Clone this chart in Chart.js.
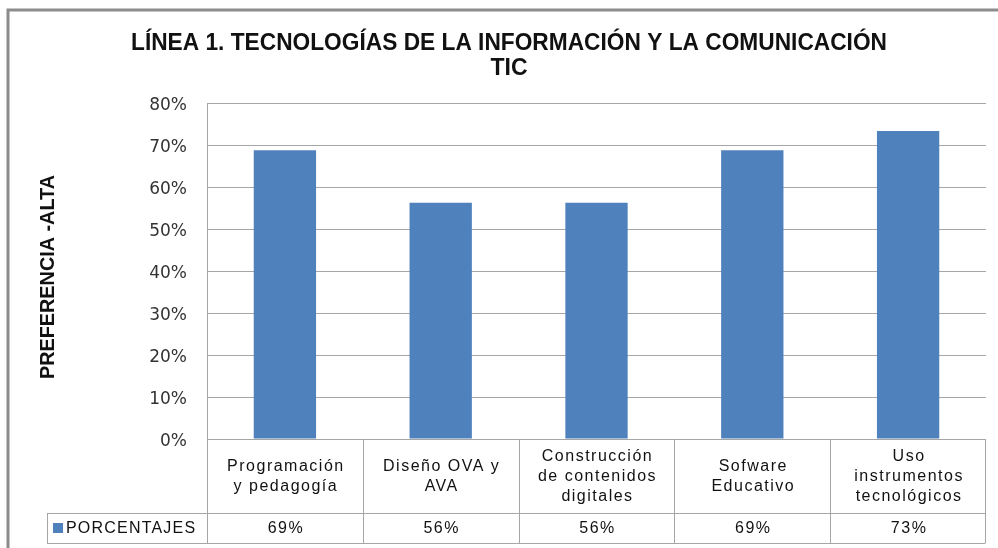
<!DOCTYPE html>
<html>
<head>
<meta charset="utf-8">
<script src="https://cdn.jsdelivr.net/npm/chart.js@4"></script>
<style>
  body { margin: 0; background: #ffffff; }
  #wrap { width: 998px; height: 548px; }
</style>
</head>
<body>
<div id="wrap"><canvas id="ticChart"></canvas></div>
<script>
/* chart data */
const categories = [
  ["Programación", "y pedagogía"],
  ["Diseño OVA y", "AVA"],
  ["Construcción", "de contenidos", "digitales"],
  ["Sofware", "Educativo"],
  ["Uso", "instrumentos", "tecnológicos"]
];
const porcentajes = [68.75, 56.25, 56.25, 68.75, 73.33];
const tableValues = ["69%", "56%", "56%", "69%", "73%"];
const yTicks = [0, 10, 20, 30, 40, 50, 60, 70, 80];

const titleLines = ["LÍNEA 1. TECNOLOGÍAS DE LA INFORMACIÓN Y LA COMUNICACIÓN", "TIC"];
const yTitle = "PREFERENCIA -ALTA";
const seriesName = "PORCENTAJES";

const barColor = "#4f81bd";
const lineColor = "#a6a6a6";

/* frame, titles and the data table under the axis */
const tablePlugin = {
  id: "tablePlugin",
  beforeDraw(chart) {
    const ctx = chart.ctx;
    ctx.save();
    ctx.fillStyle = "#ffffff";
    ctx.fillRect(0, 0, chart.width, chart.height);
    ctx.restore();
  },
  afterDraw(chart) {
    const ctx = chart.ctx;
    const area = chart.chartArea;
    const x = chart.scales.x;
    const half = (x.getPixelForValue(1) - x.getPixelForValue(0)) / 2;
    const rowTop = area.bottom;
    const rowMid = 513;
    const rowBot = 543;
    const legendLeft = 47;

    ctx.save();
    // outer frame
    ctx.strokeStyle = "#8c8c8c";
    ctx.lineWidth = 3;
    ctx.beginPath();
    ctx.moveTo(8, chart.height);
    ctx.lineTo(8, 10);
    ctx.lineTo(chart.width, 10);
    ctx.stroke();

    // title
    ctx.fillStyle = "#111111";
    ctx.textAlign = "center";
    ctx.textBaseline = "middle";
    ctx.font = "bold 23px 'Liberation Sans', Arial, sans-serif";
    ctx.fillText(titleLines[0], 509, 44, 756);
    ctx.fillText(titleLines[1], 509, 69);

    // y axis title
    ctx.save();
    ctx.translate(48, 277);
    ctx.rotate(-Math.PI / 2);
    ctx.font = "bold 20px 'Liberation Sans', Arial, sans-serif";
    ctx.fillText(yTitle, 0, 0, 204);
    ctx.restore();

    // table grid
    ctx.strokeStyle = lineColor;
    ctx.lineWidth = 1;
    ctx.beginPath();
    categories.forEach((_, i) => {
      const left = Math.round(x.getPixelForValue(i) - half) + 0.5;
      ctx.moveTo(left, rowTop);
      ctx.lineTo(left, rowBot);
    });
    const right = Math.round(area.right) - 0.5;
    ctx.moveTo(right, rowTop);
    ctx.lineTo(right, rowBot);
    ctx.moveTo(legendLeft + 0.5, rowMid);
    ctx.lineTo(legendLeft + 0.5, rowBot);
    ctx.moveTo(legendLeft, rowMid + 0.5);
    ctx.lineTo(right, rowMid + 0.5);
    ctx.moveTo(legendLeft, rowBot + 0.5);
    ctx.lineTo(right, rowBot + 0.5);
    ctx.stroke();

    // category labels
    ctx.fillStyle = "#111111";
    ctx.font = "16px 'Liberation Sans', Arial, sans-serif";
    ctx.letterSpacing = "1.5px";
    const cellMid = (rowTop + rowMid) / 2 + 1;
    categories.forEach((lines, i) => {
      const cx = x.getPixelForValue(i);
      const start = cellMid - (lines.length - 1) * 10;
      lines.forEach((t, j) => ctx.fillText(t, cx + 1, start + j * 20));
    });

    // values row
    tableValues.forEach((t, i) => {
      ctx.fillText(t, x.getPixelForValue(i) + 1, (rowMid + rowBot) / 2 + 1);
    });

    // legend key
    ctx.fillStyle = barColor;
    ctx.fillRect(53, 523, 10, 10);
    ctx.fillStyle = "#111111";
    ctx.textAlign = "left";
    ctx.letterSpacing = "1.2px";
    ctx.fillText(seriesName, 66, (rowMid + rowBot) / 2 + 1);
    ctx.restore();
  }
};

new Chart(document.getElementById("ticChart"), {
  type: "bar",
  data: {
    labels: categories.map(c => c.join(" ")),
    datasets: [{
      label: seriesName,
      data: porcentajes,
      backgroundColor: barColor,
      barPercentage: 0.4,
      categoryPercentage: 1
    }]
  },
  options: {
    responsive: true,
    maintainAspectRatio: false,
    animation: false,
    layout: { padding: { left: 0, top: 103, right: 12, bottom: 109 } },
    plugins: {
      legend: { display: false },
      tooltip: { enabled: false },
      title: { display: false }
    },
    scales: {
      x: { display: false },
      y: {
        min: yTicks[0],
        max: yTicks[yTicks.length - 1],
        afterFit(scale) { scale.width = 207; },
        afterBuildTicks(scale) { scale.ticks = yTicks.map(v => ({ value: v })); },
        ticks: {
          padding: 20,
          labelOffset: 3,
          color: "#333333",
          font: { family: "'DejaVu Sans', Verdana, sans-serif", size: 17 },
          callback: v => v + "%"
        },
        grid: { color: lineColor, drawTicks: false },
        border: { color: lineColor }
      }
    }
  },
  plugins: [tablePlugin]
});
</script>
</body>
</html>
